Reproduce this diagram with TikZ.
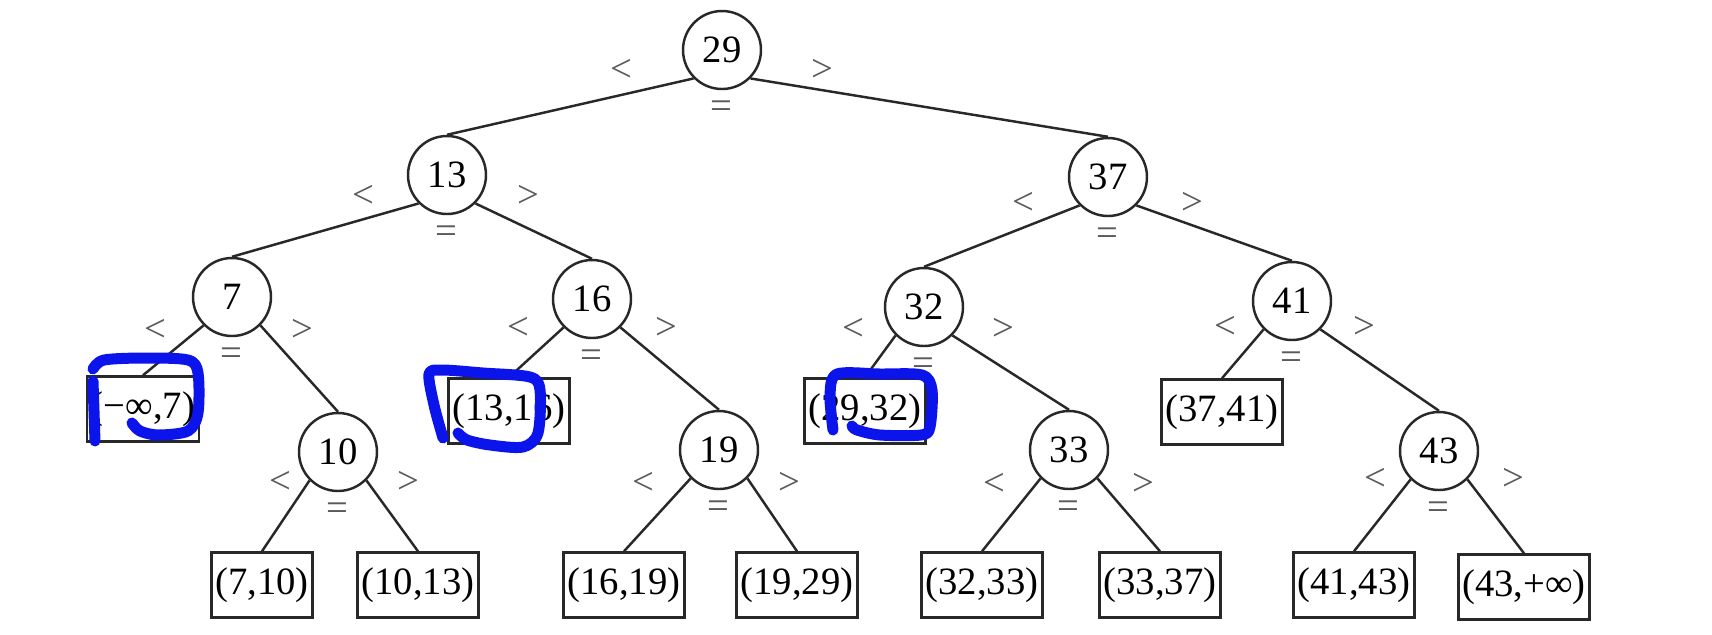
\documentclass[tikz,border=0pt]{standalone}
\usepackage{fontspec}
\setmainfont{Liberation Serif}
\usepackage{xcolor}
\usetikzlibrary{calc}
\definecolor{ink}{RGB}{40,40,40}
\definecolor{soft}{RGB}{90,90,90}
\definecolor{pen}{RGB}{10,20,235}

\begin{document}
\begin{tikzpicture}[x=0.1mm, y=-0.1mm,
    keynode/.style={circle, draw=ink, line width=0.7pt, minimum size=7.8mm,
        inner sep=0pt, font=\fontsize{11}{13}\selectfont},
    rangebox/.style={rectangle, draw=ink, line width=0.7pt, minimum height=6.5mm,
        inner xsep=0.4mm, font=\fontsize{11}{13}\selectfont},
    cmplabel/.style={text=soft, inner sep=0pt, font=\fontsize{11}{13}\selectfont},
    branch/.style={ink, line width=0.7pt},
    penstroke/.style={pen, line width=1.1mm, line cap=round, line join=round}]

    \useasboundingbox (0,0) rectangle (1712,634);

    %% --- Keys (inner nodes) ---
    \node[keynode] (n29) at (722, 50)  {29};
    \node[keynode] (n13) at (447, 175) {13};
    \node[keynode] (n37) at (1108, 177) {37};
    \node[keynode] (n7)  at (232, 297) {7};
    \node[keynode] (n16) at (592, 299) {16};
    \node[keynode] (n32) at (924, 307) {32};
    \node[keynode] (n41) at (1292, 301) {41};
    \node[keynode] (n10) at (338, 452) {10};
    \node[keynode] (n19) at (719, 450) {19};
    \node[keynode] (n33) at (1069, 450) {33};
    \node[keynode] (n43) at (1439, 451) {43};

    %% --- Ranges (leaves) ---
    \node[rangebox] (r0)  at (143, 409)  {(−∞,7)};
    \node[rangebox] (r1)  at (262, 585)  {(7,10)};
    \node[rangebox] (r2)  at (418, 585)  {(10,13)};
    \node[rangebox] (r3)  at (509, 411)  {(13,16)};
    \node[rangebox] (r4)  at (624, 585)  {(16,19)};
    \node[rangebox] (r5)  at (797, 585)  {(19,29)};
    \node[rangebox] (r6)  at (865, 411)  {(29,32)};
    \node[rangebox] (r7)  at (982, 585)  {(32,33)};
    \node[rangebox] (r8)  at (1160, 585) {(33,37)};
    \node[rangebox] (r9)  at (1222, 412) {(37,41)};
    \node[rangebox] (r10) at (1354, 585) {(41,43)};
    \node[rangebox] (r11) at (1524, 587) {(43,+∞)};

    %% --- Branches: parent / left child / right child ---
    \foreach \p/\a/\b in {n29/n13/n37, n13/n7/n16, n37/n32/n41,
                          n7/r0/n10, n16/r3/n19, n32/r6/n33, n41/r9/n43,
                          n10/r1/r2, n19/r4/r5, n33/r7/r8, n43/r10/r11} {
        \draw[branch] (\p.south west) -- (\a.north);
        \draw[branch] (\p.south east) -- (\b.north);
    }

    %% --- Comparison marks round each key ---
    \foreach \n/\dl/\dr/\dy in {n29/101/100/20, n13/84/81/21, n37/85/84/26,
                                n7/77/70/33, n16/74/74/29, n32/71/79/22,
                                n41/67/72/26, n10/58/70/30, n19/76/70/33,
                                n33/75/74/34, n43/64/74/28} {
        \node[cmplabel] at ($(\n)+(-\dl,\dy)$) {<};
        \node[cmplabel] at ($(\n)+(\dr,\dy)$) {>};
        \node[cmplabel] at ($(\n)+(-1,60)$) {=};
    }

    %% --- Blue pen marks ---
    \draw[penstroke] plot[smooth, tension=0.5] coordinates {(93,369) (104,360) (145,358)
        (188,360) (198,373) (198,413) (188,431) (158,435) (140,431) (132,423)};
    \draw[penstroke] (93,381) -- (95,441);

    \draw[penstroke] plot[smooth, tension=0.5] coordinates {(443,438) (434,405) (429,374)
        (442,370) (483,373) (530,377) (540,390) (538,433) (523,447) (490,445)
        (467,440) (458,433)};

    \draw[penstroke] plot[smooth, tension=0.5] coordinates {(833,430) (830,395) (837,374)
        (880,374) (922,375) (932,390) (930,427) (921,435) (880,435) (857,430) (852,426)};

\end{tikzpicture}
\end{document}
